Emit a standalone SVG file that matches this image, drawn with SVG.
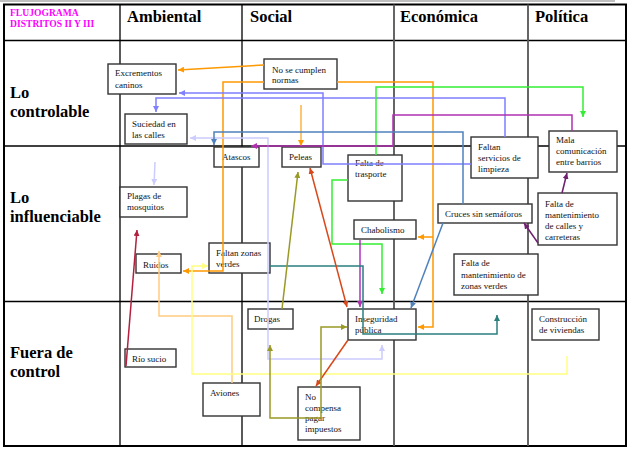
<svg xmlns="http://www.w3.org/2000/svg" width="630" height="451" viewBox="0 0 630 451">
<style>
.grid{stroke:#000;stroke-width:1.3;fill:none}
.col{stroke:#555;stroke-width:1.8;fill:none}
.box{fill:#fff;stroke:#333;stroke-width:1.4}
.t{font-family:"Liberation Serif",serif;font-size:9px;fill:#111}
.hd{font-family:"Liberation Serif",serif;font-size:16.5px;font-weight:bold;fill:#000}
.ttl{font-family:"Liberation Serif",serif;font-size:9.6px;font-weight:bold;fill:#ff00ff}
.c{fill:none;stroke-width:1.5}
</style>
<defs>
<marker id="mOr" viewBox="0 0 6 6" refX="6" refY="3" markerWidth="6" markerHeight="6" markerUnits="userSpaceOnUse" orient="auto-start-reverse"><path d="M0,0L6,3L0,6z" fill="#ff9900"/></marker>
<marker id="mPo" viewBox="0 0 6 6" refX="6" refY="3" markerWidth="6" markerHeight="6" markerUnits="userSpaceOnUse" orient="auto-start-reverse"><path d="M0,0L6,3L0,6z" fill="#ffcc80"/></marker>
<marker id="mYe" viewBox="0 0 6 6" refX="6" refY="3" markerWidth="6" markerHeight="6" markerUnits="userSpaceOnUse" orient="auto-start-reverse"><path d="M0,0L6,3L0,6z" fill="#ffff80"/></marker>
<marker id="mLa" viewBox="0 0 6 6" refX="6" refY="3" markerWidth="6" markerHeight="6" markerUnits="userSpaceOnUse" orient="auto-start-reverse"><path d="M0,0L6,3L0,6z" fill="#ccccff"/></marker>
<marker id="mBl" viewBox="0 0 6 6" refX="6" refY="3" markerWidth="6" markerHeight="6" markerUnits="userSpaceOnUse" orient="auto-start-reverse"><path d="M0,0L6,3L0,6z" fill="#7f7fff"/></marker>
<marker id="mGr" viewBox="0 0 6 6" refX="6" refY="3" markerWidth="6" markerHeight="6" markerUnits="userSpaceOnUse" orient="auto-start-reverse"><path d="M0,0L6,3L0,6z" fill="#33ee33"/></marker>
<marker id="mPu" viewBox="0 0 6 6" refX="6" refY="3" markerWidth="6" markerHeight="6" markerUnits="userSpaceOnUse" orient="auto-start-reverse"><path d="M0,0L6,3L0,6z" fill="#b030b0"/></marker>
<marker id="mDp" viewBox="0 0 6 6" refX="6" refY="3" markerWidth="6" markerHeight="6" markerUnits="userSpaceOnUse" orient="auto-start-reverse"><path d="M0,0L6,3L0,6z" fill="#702070"/></marker>
<marker id="mSb" viewBox="0 0 6 6" refX="6" refY="3" markerWidth="6" markerHeight="6" markerUnits="userSpaceOnUse" orient="auto-start-reverse"><path d="M0,0L6,3L0,6z" fill="#4f81bd"/></marker>
<marker id="mTe" viewBox="0 0 6 6" refX="6" refY="3" markerWidth="6" markerHeight="6" markerUnits="userSpaceOnUse" orient="auto-start-reverse"><path d="M0,0L6,3L0,6z" fill="#2a7f7f"/></marker>
<marker id="mRo" viewBox="0 0 6 6" refX="6" refY="3" markerWidth="6" markerHeight="6" markerUnits="userSpaceOnUse" orient="auto-start-reverse"><path d="M0,0L6,3L0,6z" fill="#d8481a"/></marker>
<marker id="mOl" viewBox="0 0 6 6" refX="6" refY="3" markerWidth="6" markerHeight="6" markerUnits="userSpaceOnUse" orient="auto-start-reverse"><path d="M0,0L6,3L0,6z" fill="#999926"/></marker>
<marker id="mCr" viewBox="0 0 6 6" refX="6" refY="3" markerWidth="6" markerHeight="6" markerUnits="userSpaceOnUse" orient="auto-start-reverse"><path d="M0,0L6,3L0,6z" fill="#b3203f"/></marker>
</defs>
<rect width="630" height="451" fill="#fff"/>
<g id="grid">
<line x1="0" y1="1" x2="615" y2="1" stroke="#aaa" stroke-width="1.5"/>
<rect x="4" y="4.5" width="622" height="441.5" fill="none" stroke="#000" stroke-width="2"/>
<line class="grid" x1="4" y1="40.5" x2="626" y2="40.5"/>
<line class="grid" x1="4" y1="146" x2="626" y2="146"/>
<line class="grid" x1="4" y1="301.5" x2="626" y2="301.5"/>
<line class="grid" x1="120" y1="4.5" x2="120" y2="446"/>
<line class="grid" x1="242" y1="4.5" x2="242" y2="446"/>
<line class="col" x1="394" y1="4.5" x2="394" y2="446"/>
<line class="col" x1="528" y1="4.5" x2="528" y2="446"/>
<text class="ttl" x="10" y="16">FLUJOGRAMA</text>
<text class="ttl" x="10" y="27">DISTRITOS II Y III</text>
<text class="hd" x="127" y="22">Ambiental</text>
<text class="hd" x="250" y="22">Social</text>
<text class="hd" x="400" y="22">Económica</text>
<text class="hd" x="535" y="22">Política</text>
<text class="hd" x="10" y="98">Lo</text>
<text class="hd" x="10" y="117">controlable</text>
<text class="hd" x="10" y="203">Lo</text>
<text class="hd" x="10" y="222">influenciable</text>
<text class="hd" x="10" y="358">Fuera de</text>
<text class="hd" x="10" y="377">control</text>
</g>
<g id="n-excrementos"><rect class="box" x="108" y="64" width="68" height="30"/><text class="t" x="115" y="76">Excrementos</text><text class="t" x="115" y="88">caninos</text></g>
<g id="n-suciedad"><rect class="box" x="125" y="114" width="62" height="30"/><text class="t" x="132" y="127">Suciedad en</text><text class="t" x="132" y="138">las calles</text></g>
<g id="n-normas"><rect class="box" x="264" y="59" width="73" height="30"/><text class="t" x="272" y="73">No se cumplen</text><text class="t" x="272" y="83">normas</text></g>
<g id="n-atascos"><rect class="box" x="214" y="147" width="45" height="20"/><text class="t" x="222" y="160">Atascos</text></g>
<g id="n-peleas"><rect class="box" x="282" y="147" width="39" height="20"/><text class="t" x="289" y="160">Peleas</text></g>
<g id="n-trasporte"><rect class="box" x="348" y="155" width="54" height="46"/><text class="t" x="355" y="166">Falta de</text><text class="t" x="355" y="177">trasporte</text></g>
<g id="n-limpieza"><rect class="box" x="471" y="137" width="67" height="41"/><text class="t" x="478" y="150">Faltan</text><text class="t" x="478" y="161">servicios de</text><text class="t" x="478" y="172">limpieza</text></g>
<g id="n-comunicacion"><rect class="box" x="549" y="131" width="68" height="41"/><text class="t" x="556" y="143">Mala</text><text class="t" x="556" y="154">comunicación</text><text class="t" x="556" y="165">entre  barrios</text></g>
<g id="n-calles"><rect class="box" x="538" y="193" width="79" height="52"/><text class="t" x="545" y="207">Falta de</text><text class="t" x="545" y="218">mantenimiento</text><text class="t" x="545" y="229">de calles y</text><text class="t" x="545" y="240">carreteras</text></g>
<g id="n-cruces"><rect class="box" x="438" y="204" width="94" height="19"/><text class="t" x="445" y="217">Cruces sin semáforos</text></g>
<g id="n-chabolismo"><rect class="box" x="354" y="220" width="62" height="19"/><text class="t" x="361" y="233">Chabolismo</text></g>
<g id="n-zonasverdes-mant"><rect class="box" x="454" y="254" width="84" height="41"/><text class="t" x="461" y="266">Falta de</text><text class="t" x="461" y="278">mantenimiento de</text><text class="t" x="461" y="289">zonas verdes</text></g>
<g id="n-plagas"><rect class="box" x="120" y="187" width="67" height="30"/><text class="t" x="127" y="199">Plagas de</text><text class="t" x="127" y="210">mosquitos</text></g>
<g id="n-ruidos"><rect class="box" x="136" y="254" width="45" height="19"/><text class="t" x="143" y="268">Ruidos</text></g>
<g id="n-faltanzonas"><rect class="box" x="209" y="243" width="61" height="30"/><text class="t" x="216" y="256">Faltan zonas</text><text class="t" x="216" y="267">verdes</text></g>
<g id="n-rio"><rect class="box" x="125" y="349" width="51" height="18"/><text class="t" x="132" y="362">Río sucio</text></g>
<g id="n-drogas"><rect class="box" x="248" y="309" width="45" height="20"/><text class="t" x="254" y="322">Drogas</text></g>
<g id="n-aviones"><rect class="box" x="203" y="383" width="57" height="33"/><text class="t" x="210" y="396">Aviones</text></g>
<g id="n-impuestos"><rect class="box" x="298" y="387" width="62" height="53"/><text class="t" x="305" y="400">No</text><text class="t" x="305" y="411">compensa</text><text class="t" x="305" y="421">pagar</text><text class="t" x="305" y="432">impuestos</text></g>
<g id="n-inseguridad"><rect class="box" x="348" y="309" width="68" height="31"/><text class="t" x="355" y="322">Inseguridad</text><text class="t" x="355" y="333">pública</text></g>
<g id="n-viviendas"><rect class="box" x="532" y="309" width="67" height="31"/><text class="t" x="539" y="322">Construcción</text><text class="t" x="539" y="333">de viviendas</text></g>
<g id="connectors">
<path class="c" stroke="#ff9900" d="M264,65L178,70" marker-end="url(#mOr)"/>
<path class="c" stroke="#ff9900" d="M264,82H223V271H183" marker-end="url(#mOr)"/>
<path class="c" stroke="#ff9900" d="M337,82H433V327H418" marker-end="url(#mOr)"/>
<path class="c" stroke="#ff9900" d="M433,237H418" marker-end="url(#mOr)"/>
<path class="c" stroke="#ffb340" d="M301,105V146" marker-end="url(#mOr)"/>
<path class="c" stroke="#ffcc80" d="M232,383V316H159V251" marker-end="url(#mPo)"/>
<path class="c" stroke="#ffff80" d="M567,356V374H192V266H208" marker-end="url(#mYe)"/>
<path class="c" stroke="#ccccff" d="M190,138H268V359H382V345" marker-start="url(#mLa)" marker-end="url(#mLa)"/>
<path class="c" stroke="#ccccff" d="M155,162L154,185" marker-end="url(#mLa)"/>
<path class="c" stroke="#7f7fff" d="M471,164H323V93H179" marker-end="url(#mBl)"/>
<path class="c" stroke="#7f7fff" d="M505,137V98H156V112" marker-end="url(#mBl)"/>
<path class="c" stroke="#33ee33" d="M376,155V87H583V117" marker-end="url(#mGr)"/>
<path class="c" stroke="#33ee33" d="M348,180H332V244H382V294" marker-end="url(#mGr)"/>
<path class="c" stroke="#b030b0" d="M572,131V115H393V146H251" marker-end="url(#mPu)"/>
<path class="c" stroke="#b030c0" d="M360,240V307" marker-end="url(#mPu)"/>
<path class="c" stroke="#702070" d="M562,193L567,173" marker-end="url(#mDp)"/>
<path class="c" stroke="#702070" d="M538,243L524,223" marker-end="url(#mDp)"/>
<path class="c" stroke="#4f81bd" d="M463,204V132H214V145" marker-end="url(#mSb)"/>
<path class="c" stroke="#4f81bd" d="M443,223L411,308" marker-end="url(#mSb)"/>
<path class="c" stroke="#2a7f7f" d="M270,266H363V334H497V315" marker-end="url(#mTe)"/>
<path class="c" stroke="#d8481a" d="M310,168L347,307" marker-start="url(#mRo)" marker-end="url(#mRo)"/>
<path class="c" stroke="#d8481a" stroke-width="1" d="M348,340L316,386" marker-end="url(#mRo)"/>
<path class="c" stroke="#999926" d="M282,309L298,172" marker-end="url(#mOl)"/>
<path class="c" stroke="#999926" d="M270,345V418H321V327H347" marker-start="url(#mOl)" marker-end="url(#mOl)"/>
<path class="c" stroke="#b3203f" d="M126,366L137,230" marker-end="url(#mCr)"/>
</g>
</svg>
